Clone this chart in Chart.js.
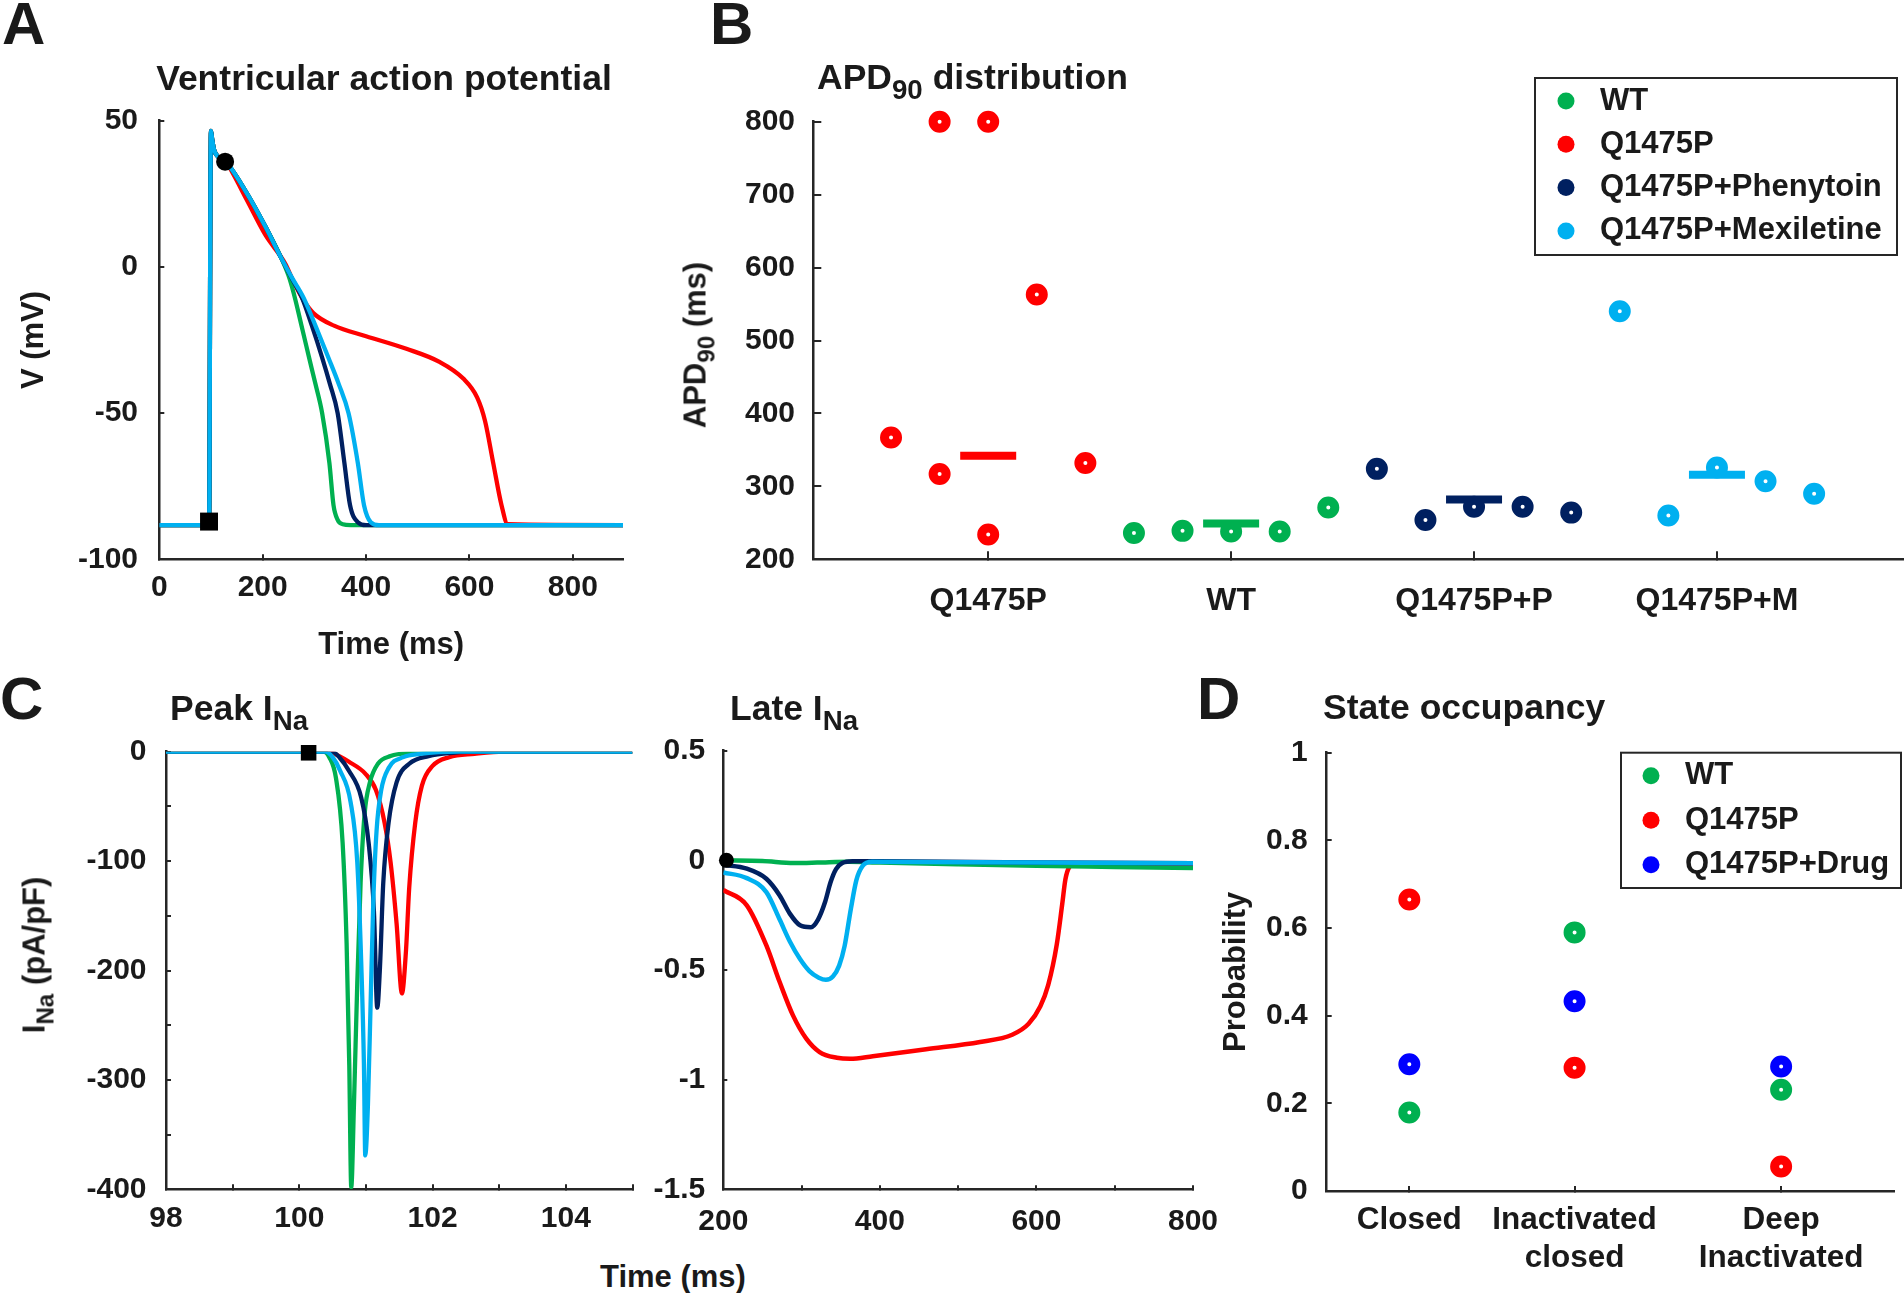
<!DOCTYPE html>
<html>
<head>
<meta charset="utf-8">
<title>Q1475P simulations</title>
<script src="https://cdn.jsdelivr.net/npm/chart.js@4.4.1/dist/chart.umd.min.js"></script>
<style>
  html, body { margin: 0; padding: 0; background: #fff; }
  #page { position: relative; width: 1904px; height: 1293px; overflow: hidden; }
  canvas { position: absolute; }
  .t { position: absolute; font-family: 'Liberation Sans', Arial, sans-serif; font-weight: bold; color: #1a1a1a;
       line-height: 1; white-space: nowrap; transform: translateY(-50%); }
  .c { transform: translate(-50%, -50%); }
  .r { transform: translate(-50%, -50%) rotate(-90deg); }
  .sub { font-size: 0.78em; position: relative; top: 0.36em; }
</style>
</head>
<body>
<div id="page">
  <canvas id="apChart"   style="left:0px;top:60px"     width="650"  height="620"></canvas>
  <canvas id="apdChart"  style="left:700px;top:60px"   width="1204" height="620"></canvas>
  <canvas id="peakChart" style="left:0px;top:700px"    width="660"  height="550"></canvas>
  <canvas id="lateChart" style="left:640px;top:700px"  width="600"  height="550"></canvas>
  <canvas id="occChart"  style="left:1200px;top:690px" width="704"  height="603"></canvas>

  <div class="t" style="left:2px;top:24px;font-size:60px">A</div>
  <div class="t c" style="left:384px;top:79px;font-size:35.5px">Ventricular action potential</div>
  <div class="t" style="left:710px;top:24px;font-size:60px">B</div>
  <div class="t" style="left:817px;top:78px;font-size:35.5px">APD<span class="sub">90</span> distribution</div>
  <div class="t r" style="left:695px;top:345px;font-size:31px">APD<span class="sub">90</span> (ms)</div>
  <div class="t" style="left:0px;top:699px;font-size:60px">C</div>
  <div class="t" style="left:170px;top:709px;font-size:35.5px">Peak I<span class="sub">Na</span></div>
  <div class="t" style="left:730px;top:709px;font-size:35.5px">Late I<span class="sub">Na</span></div>
  <div class="t r" style="left:34px;top:955px;font-size:31px">I<span class="sub">Na</span> (pA/pF)</div>
  <div class="t c" style="left:673px;top:1276px;font-size:31px">Time (ms)</div>
  <div class="t" style="left:1197px;top:699px;font-size:60px">D</div>
  <div class="t" style="left:1323px;top:708px;font-size:35.5px">State occupancy</div>
</div>

<script>
// colours and fonts
const GREEN = '#00b050', RED = '#ff0000', NAVY = '#002060', CYAN = '#00b0f0', BLUE = '#0000ff';
const AXIS = '#262626', TEXT = '#1a1a1a';
const FONT = "'Liberation Sans', Arial, sans-serif";

// ---- A: ventricular action potential (time ms, V mV) ----
const apTicksX = [0, 200, 400, 600, 800];
const apTicksY = [-100, -50, 0, 50];
const apWT_t  = [0, 96, 97, 98, 99, 100, 102, 106, 115, 127, 166, 205, 236, 250, 260, 275, 289, 302, 315, 329, 337, 345, 355, 370, 897];
const apWT_v  = [-88.3, -88.3, -75, -20, 30, 46.5, 44, 40, 37.5, 36.3, 26.2, 13.9, 3, -3, -9, -20, -30.5, -40, -50, -67, -81.5, -86.5, -88, -88.3, -88.3];
const apQ_t   = [0, 96, 97, 98, 99, 100, 102, 106, 115, 127, 166, 205, 244, 260, 279, 298, 338, 400, 478, 541, 588, 615, 630, 646, 662, 674, 897];
const apQ_v   = [-88.3, -88.3, -75, -20, 30, 46.5, 44, 40, 37.5, 36.3, 24, 11, 1, -5.2, -11.4, -15.8, -20.1, -23.7, -28, -32.4, -38.2, -44.7, -52.6, -67.1, -81.5, -88, -88.3];
const apPhe_t = [0, 96, 97, 98, 99, 100, 102, 106, 115, 127, 166, 205, 236, 255, 276, 295, 315, 330, 345, 358, 369, 384, 400, 897];
const apPhe_v = [-88.3, -88.3, -75, -20, 30, 46.5, 44, 40, 37.5, 36.3, 26.2, 13.9, 3, -3.5, -10.5, -20, -31, -40, -50, -67, -81.5, -87.3, -88.3, -88.3];
const apMex_t = [0, 96, 97, 98, 99, 100, 102, 106, 115, 127, 166, 205, 236, 256, 279, 303, 327, 347, 366, 384, 396, 409, 425, 897];
const apMex_v = [-88.3, -88.3, -75, -20, 30, 46.5, 44, 40, 37.5, 36.3, 26.2, 13.9, 3, -3.5, -10.5, -20.5, -31, -40, -50, -67, -81.5, -87.3, -88.3, -88.3];
const apStim = [96.2, -87.1];
const apMark = [127.3, 36];

// ---- B: APD90 distribution ----
const apdCats = ['Q1475P', 'WT', 'Q1475P+P', 'Q1475P+M'];
const apdCatPos = [1, 2, 3, 4];
const apdTicksY = [200, 300, 400, 500, 600, 700, 800];
const apdQ_x   = [0.6, 0.8, 0.8, 1.0, 1.0, 1.2, 1.4];
const apdQ_y   = [367, 800, 317, 800, 234, 563, 332];
const apdWT_x  = [1.6, 1.8, 2.0, 2.2, 2.4];
const apdWT_y  = [236, 239, 238, 238, 271];
const apdPhe_x = [2.6, 2.8, 3.0, 3.2, 3.4];
const apdPhe_y = [324, 254, 272, 272, 264];
const apdMex_x = [3.6, 3.8, 4.0, 4.2, 4.4];
const apdMex_y = [540, 260, 326, 307, 290];
const apdMean  = [342, 249, 282, 316];
const apdLegend = ['WT', 'Q1475P', 'Q1475P+Phenytoin', 'Q1475P+Mexiletine'];

// ---- C: peak INa (time ms, pA/pF) ----
const peakTicksX = [98, 99, 100, 101, 102, 103, 104, 105];
const peakTicksY = [-400, -350, -300, -250, -200, -150, -100, -50, 0];
const peakWT_t  = [98, 100.36, 100.45, 100.55, 100.65, 100.71, 100.75, 100.78, 100.82, 100.87, 100.92, 100.98, 101.06, 101.18, 101.37, 101.69, 102.2, 105];
const peakWT_i  = [0, 0, -5, -24, -83, -175, -286, -398, -323, -212, -120, -57, -28, -11, -4, -1, 0, 0];
const peakQ_t   = [98, 100.43, 100.6, 100.74, 100.99, 101.15, 101.28, 101.37, 101.46, 101.54, 101.6, 101.65, 101.74, 101.84, 102.0, 102.25, 102.63, 103.07, 105];
const peakQ_i   = [0, 0, -4, -9, -20, -35, -65, -101, -157, -221, -183, -124, -65, -31, -13, -5, -2, 0, 0];
const peakPhe_t = [98, 100.49, 100.6, 100.74, 100.93, 101.04, 101.12, 101.17, 101.21, 101.26, 101.34, 101.46, 101.65, 101.94, 102.31, 102.8, 105];
const peakPhe_i = [0, 0, -5, -17, -42, -83, -146, -234, -198, -120, -65, -28, -11, -4, -1, 0, 0];
const peakMex_t = [98, 100.39, 100.5, 100.61, 100.77, 100.87, 100.93, 100.97, 100.99, 101.03, 101.07, 101.11, 101.16, 101.23, 101.34, 101.56, 101.81, 102.4, 105];
const peakMex_i = [0, 0, -5, -17, -46, -101, -194, -286, -369, -323, -231, -138, -72, -35, -15, -5, -2, 0, 0];
const peakStim = [100.14, -1];

// ---- C: late INa ----
const lateTicksX = [200, 300, 400, 500, 600, 700, 800];
const lateTicksY = [-1.5, -1, -0.5, 0, 0.5];
const lateWT_t  = [200, 250, 290, 320, 360, 400, 500, 600, 700, 800];
const lateWT_i  = [0, -0.003, -0.012, -0.01, -0.006, -0.01, -0.018, -0.025, -0.03, -0.035];
const lateQ_t   = [200, 230, 255, 272, 289, 306, 323, 345, 362, 391, 459, 528, 569, 590, 605, 615, 626, 633, 637, 642, 650, 800];
const lateQ_i   = [-0.135, -0.205, -0.388, -0.555, -0.707, -0.813, -0.874, -0.9, -0.905, -0.893, -0.861, -0.828, -0.795, -0.745, -0.665, -0.569, -0.383, -0.198, -0.087, -0.03, -0.015, -0.015];
const latePhe_t = [200, 230, 255, 272, 285, 298, 312, 321, 330, 337, 344, 352, 365, 400, 600, 800];
const latePhe_i = [-0.02, -0.038, -0.084, -0.16, -0.243, -0.296, -0.305, -0.27, -0.19, -0.1, -0.04, -0.012, -0.004, -0.004, -0.01, -0.013];
const lateMex_t = [200, 230, 255, 272, 285, 298, 310, 322, 331, 340, 348, 355, 363, 370, 378, 390, 600, 800];
const lateMex_i = [-0.055, -0.081, -0.145, -0.27, -0.37, -0.45, -0.505, -0.535, -0.545, -0.53, -0.48, -0.39, -0.22, -0.09, -0.025, -0.006, -0.01, -0.013];
const lateMark = [204, 0];

// ---- D: state occupancy ----
const stateNames = ['Closed', ['Inactivated', 'closed'], ['Deep', 'Inactivated']];
const statePos = [1, 2, 3.25];
const occTicksY = [0, 0.2, 0.4, 0.6, 0.8, 1];
const occWT   = [0.179, 0.590, 0.231];
const occQ    = [0.665, 0.281, 0.056];
const occDrug = [0.289, 0.433, 0.284];
const occLegend = ['WT', 'Q1475P', 'Q1475P+Drug'];

// ---------- helpers ----------
const pts = (xs, ys) => xs.map((x, i) => ({ x: x, y: ys[i] }));

function curve(xs, ys, color, order, width) {
  return { data: pts(xs, ys), showLine: true, borderColor: color, borderWidth: width || 4.3,
           pointRadius: 0, cubicInterpolationMode: 'monotone', order: order };
}
function ring(xs, ys, color) {
  return { data: pts(xs, ys), showLine: false, pointRadius: 6.5, pointBorderWidth: 9,
           pointBackgroundColor: '#fff', pointBorderColor: color, order: 1, clip: false };
}
function marker(p, style, r) {
  return { data: [{ x: p[0], y: p[1] }], showLine: false, pointStyle: style, pointRadius: r,
           pointBackgroundColor: '#000', pointBorderWidth: 0, order: -1, clip: false };
}

function axis(c) {
  return {
    type: 'linear', min: c.min, max: c.max,
    afterBuildTicks: s => { s.ticks = c.ticks.map(v => ({ value: v })); },
    afterFit: s => { if (s.isHorizontal()) s.height = c.size; else s.width = c.size; },
    ticks: {
      autoSkip: false, maxRotation: 0, minRotation: 0, padding: c.pad, color: TEXT,
      font: { family: FONT, size: c.font || 30, weight: 'bold', lineHeight: c.lh || 1.2 },
      callback: c.label || (v => v)
    },
    grid: { display: true, drawOnChartArea: false, drawTicks: true, tickLength: -c.tick, color: AXIS, lineWidth: 2 },
    border: { display: true, color: AXIS, width: 2.5 },
    title: c.title || { display: false }
  };
}
function axisTitle(text, pad) {
  return { display: true, text: text, color: TEXT, padding: pad,
           font: { family: FONT, size: 31, weight: 'bold', lineHeight: 1.2 } };
}

// legend drawn inside a framed box, like the original figure
const boxLegend = {
  id: 'boxLegend',
  afterDraw(chart, args, o) {
    if (!o || !o.items) return;
    const ctx = chart.ctx;
    ctx.save();
    ctx.fillStyle = '#fff';
    ctx.fillRect(o.x, o.y, o.w, o.h);
    ctx.lineWidth = 2;
    ctx.strokeStyle = AXIS;
    ctx.strokeRect(o.x, o.y, o.w, o.h);
    ctx.font = 'bold ' + o.fontSize + 'px ' + FONT;
    ctx.textBaseline = 'middle';
    ctx.textAlign = 'left';
    o.items.forEach((it, i) => {
      const cy = o.y + o.first + i * o.step;
      ctx.beginPath();
      ctx.arc(o.x + o.dotX, cy, o.dotR, 0, Math.PI * 2);
      ctx.fillStyle = it.color;
      ctx.fill();
      ctx.fillStyle = TEXT;
      ctx.fillText(it.text, o.x + o.textX, cy);
    });
    ctx.restore();
  }
};

function baseOptions(padding, scales, extraPlugins) {
  return {
    responsive: false, animation: false, events: [],
    layout: { padding: padding, autoPadding: false },
    plugins: Object.assign({ legend: { display: false }, tooltip: { enabled: false } }, extraPlugins || {}),
    scales: scales
  };
}

// ---------- A ----------
new Chart(document.getElementById('apChart'), {
  type: 'scatter',
  data: { datasets: [
    marker(apStim, 'rect', 12.7),
    marker(apMark, 'circle', 9),
    curve(apMex_t, apMex_v, CYAN, 1),
    curve(apPhe_t, apPhe_v, NAVY, 2),
    curve(apWT_t, apWT_v, GREEN, 3),
    curve(apQ_t, apQ_v, RED, 4)
  ] },
  options: baseOptions({ left: 0, top: 60.7, right: 27, bottom: 0 }, {
    x: axis({ min: 0, max: 897, ticks: apTicksX, size: 120.7, pad: 15.7, tick: 5,
              title: axisTitle('Time (ms)', { top: 0, bottom: 16.4 }) }),
    y: axis({ min: -100, max: 50, ticks: apTicksY, size: 159.3, pad: 26.3, tick: 5,
              title: axisTitle('V (mV)', { top: 15.4, bottom: 0 }) })
  })
});

// ---------- B ----------
const apdColors = [RED, GREEN, NAVY, CYAN];
new Chart(document.getElementById('apdChart'), {
  type: 'scatter',
  data: { datasets: [
    { data: pts(apdCatPos, apdMean), showLine: false, pointStyle: 'line', pointRadius: 28,
      pointBorderWidth: 8, pointBorderColor: apdColors, order: 0, clip: false },
    ring(apdQ_x, apdQ_y, RED),
    ring(apdWT_x, apdWT_y, GREEN),
    ring(apdPhe_x, apdPhe_y, NAVY),
    ring(apdMex_x, apdMex_y, CYAN)
  ] },
  options: baseOptions({ left: 0, top: 61.7, right: 0, bottom: 0 }, {
    x: axis({ min: 0.28, max: 4.77, ticks: apdCatPos, size: 120.7, pad: 30.5, tick: 8, font: 32,
              label: (v, i) => apdCats[i] }),
    y: axis({ min: 200, max: 800, ticks: apdTicksY, size: 113.3, pad: 26.3, tick: 8 })
  }, {
    boxLegend: { x: 835, y: 18, w: 362, h: 177, first: 23, step: 43.3, dotX: 31, dotR: 8.5, textX: 65, fontSize: 31,
                 items: apdLegend.map((t, i) => ({ text: t, color: [GREEN, RED, NAVY, CYAN][i] })) }
  }),
  plugins: [boxLegend]
});

// ---------- C: peak ----------
new Chart(document.getElementById('peakChart'), {
  type: 'scatter',
  data: { datasets: [
    marker(peakStim, 'rect', 11),
    curve(peakMex_t, peakMex_i, CYAN, 1),
    curve(peakPhe_t, peakPhe_i, NAVY, 2),
    curve(peakWT_t, peakWT_i, GREEN, 3),
    curve(peakQ_t, peakQ_i, RED, 4)
  ] },
  options: baseOptions({ left: 0, top: 51.7, right: 27.5, bottom: 0 }, {
    x: axis({ min: 98, max: 105, ticks: peakTicksX, size: 60.7, pad: 16.7, tick: 5,
              label: v => (v % 2 === 0 && v < 105 ? v : '') }),
    y: axis({ min: -400, max: 0, ticks: peakTicksY, size: 166, pad: 24.5, tick: 5,
              label: v => (v % 100 === 0 ? v : '') })
  })
});

// ---------- C: late ----------
new Chart(document.getElementById('lateChart'), {
  type: 'scatter',
  data: { datasets: [
    marker(lateMark, 'circle', 7.5),
    curve(lateMex_t, lateMex_i, CYAN, 1, 4.5),
    curve(latePhe_t, latePhe_i, NAVY, 2, 4.5),
    curve(lateWT_t, lateWT_i, GREEN, 3, 4.5),
    curve(lateQ_t, lateQ_i, RED, 4, 4.5)
  ] },
  options: baseOptions({ left: 0, top: 50.7, right: 47, bottom: 0 }, {
    x: axis({ min: 200, max: 800, ticks: lateTicksX, size: 60.7, pad: 18.6, tick: 4,
              label: v => (v % 200 === 0 ? v : '') }),
    y: axis({ min: -1.5, max: 0.5, ticks: lateTicksY, size: 83.3, pad: 22, tick: 4 })
  })
});

// ---------- D ----------
new Chart(document.getElementById('occChart'), {
  type: 'scatter',
  data: { datasets: [
    ring(statePos, occWT, GREEN),
    ring(statePos, occQ, RED),
    ring(statePos, occDrug, BLUE)
  ] },
  options: baseOptions({ left: 0, top: 62.7, right: 10.5, bottom: 0 }, {
    x: axis({ min: 0.5, max: 3.93, ticks: statePos, size: 102, pad: 14.7, tick: 5, font: 31.5, lh: 1.22,
              label: (v, i) => stateNames[i] }),
    y: axis({ min: 0, max: 1, ticks: occTicksY, size: 126.7, pad: 24, tick: 5,
              title: axisTitle('Probability', { top: 17.4, bottom: 0 }) })
  }, {
    boxLegend: { x: 421, y: 62.7, w: 280, h: 135.3, first: 23, step: 44.5, dotX: 30, dotR: 8.5, textX: 64, fontSize: 31,
                 items: occLegend.map((t, i) => ({ text: t, color: [GREEN, RED, BLUE][i] })) }
  }),
  plugins: [boxLegend]
});
</script>
</body>
</html>
